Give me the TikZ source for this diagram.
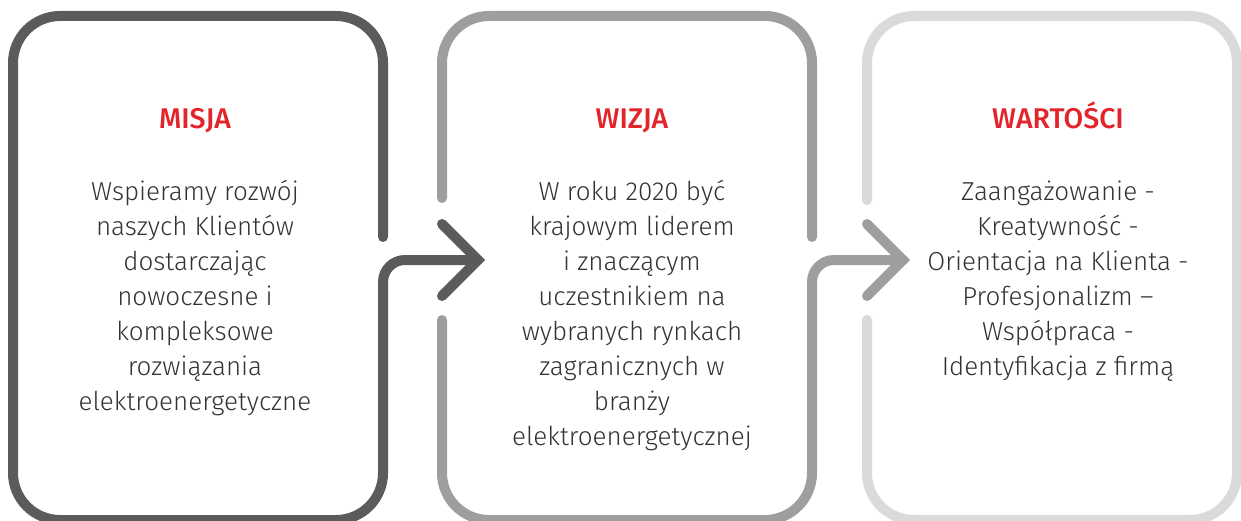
\documentclass[tikz,border=0pt]{standalone}
\usepackage{fontspec}
\setmainfont{Fira Sans}[UprightFont=* Light, BoldFont=* Medium]
\usetikzlibrary{positioning}
\definecolor{darkline}{HTML}{5B5B5B}
\definecolor{midline}{HTML}{9D9E9D}
\definecolor{lightline}{HTML}{D9DAD9}
\definecolor{headred}{HTML}{E2242B}
\definecolor{bodytext}{HTML}{333333}
\tikzset{
  frame/.style={line width=10pt, line cap=round, rounded corners=47pt},
  elbow/.style={line width=10pt, line cap=round, rounded corners=22pt},
  chevron/.style={line width=10pt, line cap=round},
  title/.style={font=\fontsize{28.5}{35}\selectfont\bfseries, text=headred, inner sep=0pt, anchor=base},
  body/.style={font=\fontsize{26}{35}\selectfont, text=bodytext, align=center, inner sep=0pt},
}
\begin{document}
\begin{tikzpicture}[x=1pt,y=-1pt]
    \useasboundingbox (0,0) rectangle (1241,521);
    % points where the frames open and the arrows run
    \coordinate (m-top) at (383,237);
    \coordinate (m-bot) at (383,300);
    \coordinate (w-top) at (442,198);
    \coordinate (w-bot) at (442,320);
    \coordinate (w-out) at (812,300);
    \coordinate (v-top) at (867,200);
    \coordinate (v-bot) at (867,320);
    \coordinate (tip1) at (478,260);
    \coordinate (tip2) at (903,260);
    % frames
    \draw[frame,darkline] (m-top) -- (383,16) -- (13,16) -- (13,520) -- (383,520) -- (m-bot);
    \draw[frame,midline] (812,237) -- (812,16) -- (442,16) -- (w-top);
    \draw[frame,midline] (w-bot) -- (442,520) -- (812,520) -- (w-out);
    \draw[frame,lightline] (v-top) -- (867,16) -- (1237,16) -- (1237,520) -- (867,520) -- (v-bot);
    % arrows
    \draw[elbow,darkline] (m-bot) -- (m-bot |- tip1) -- (tip1);
    \draw[chevron,darkline] (442,224) -- (tip1) -- (442,296);
    \draw[elbow,midline] (w-out) -- (w-out |- tip2) -- (tip2);
    \draw[chevron,midline] (867,224) -- (tip2) -- (867,296);
    % texts
    \path (195,128.5) node[title] (misja) {MISJA};
    \path node[body,below=47pt of misja.base] (misja-txt) {\strut Wspieramy rozwój\\ naszych Klientów\\ dostarczając\\ nowoczesne i\\ kompleksowe\\ rozwiązania\\ elektroenergetyczne};
    \path (632,128.5) node[title] (wizja) {WIZJA};
    \path node[body,below=47pt of wizja.base] (wizja-txt) {\strut W roku 2020 być\\ krajowym liderem\\ i znaczącym\\ uczestnikiem na\\ wybranych rynkach\\ zagranicznych w\\ branży\\ elektroenergetycznej};
    \path (1058,128.5) node[title] (wartosci) {WARTOŚCI};
    \path node[body,below=47pt of wartosci.base] (wartosci-txt) {\strut Zaangażowanie -\\ Kreatywność -\\ Orientacja na Klienta -\\ Profesjonalizm –\\ Współpraca -\\ Identyfikacja z firmą};
\end{tikzpicture}
\end{document}
